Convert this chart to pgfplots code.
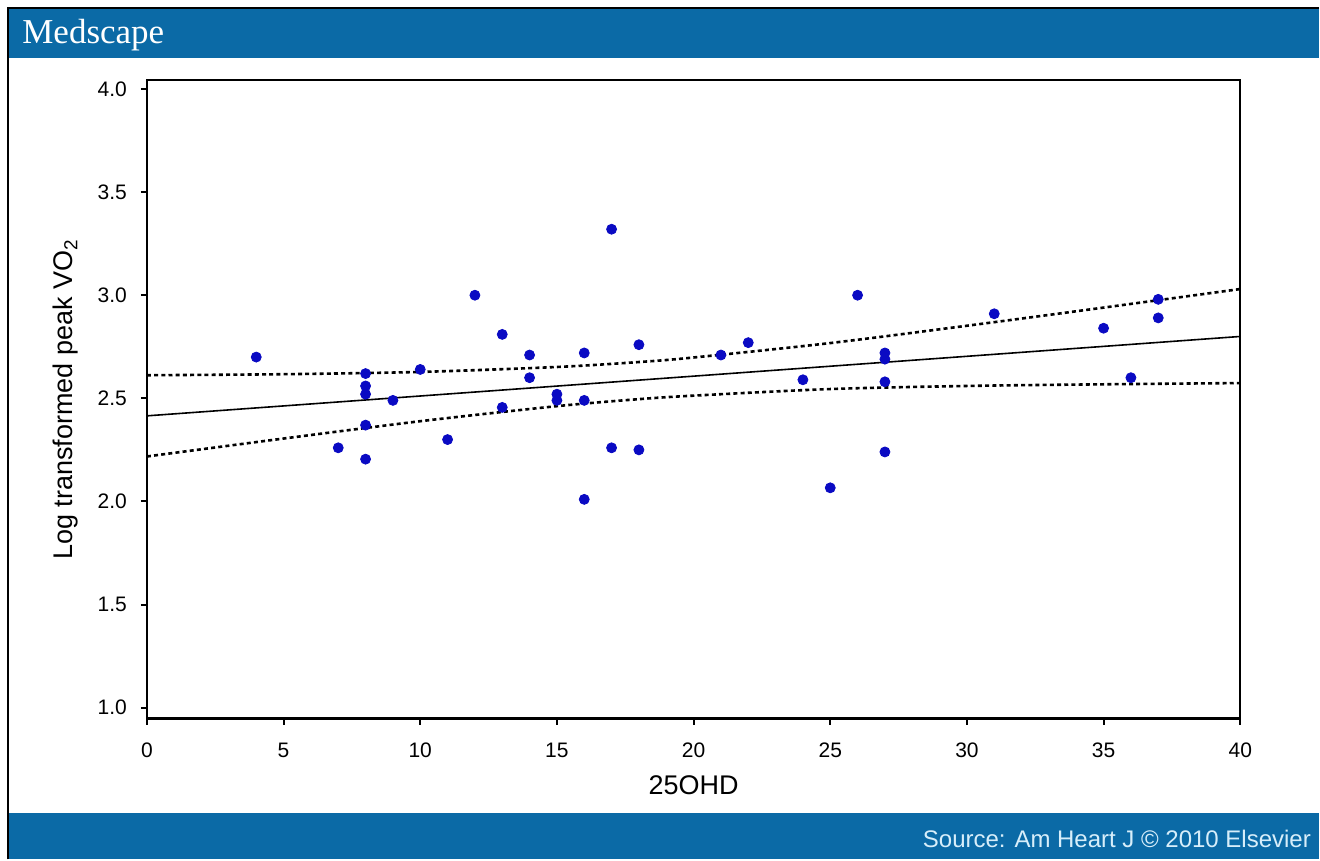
\documentclass[border=0pt]{standalone}
\usepackage{fontspec}
\setmainfont{Liberation Sans}
\newfontfamily\serifmed{Liberation Serif}
\usepackage{pgfplots}
\pgfplotsset{compat=1.18}
\definecolor{medblue}{RGB}{11,106,166}
\definecolor{dotblue}{RGB}{10,10,195}
\definecolor{foottext}{RGB}{215,238,250}

\begin{document}
\begin{tikzpicture}
\fill[white] (0pt,0pt) rectangle (660pt,430pt);
\fill[medblue] (4pt,401pt) rectangle (660pt,426pt);
\fill[medblue] (4pt,0pt) rectangle (660pt,23.5pt);
\draw[black, line width=0.8pt] (4pt,0pt) -- (4pt,426pt) -- (660pt,426pt);
\node[anchor=base west, text=white, font=\serifmed\fontsize{17.5}{20}\selectfont, inner sep=0] at (11pt,408pt) {Medscape};
\node[anchor=base east, text=foottext, font=\fontsize{12}{14}\selectfont, inner sep=0] at (656pt,6pt) {Source: Am Heart J \textcopyright{} 2010 Elsevier};
\begin{axis}[
  at={(73.5pt,70.5pt)}, anchor=south west,
  scale only axis, width=547pt, height=319.5pt,
  xmin=0, xmax=40, ymin=0.947, ymax=4.044,
  xtick={0,5,...,40}, ytick={1.0,1.5,2.0,2.5,3.0,3.5,4.0},
  yticklabel style={xshift=-3.5pt, /pgf/number format/.cd, fixed, fixed zerofill, precision=1},
  /pgf/number format/assume math mode=true,
  tick align=outside, xtick pos=bottom, ytick pos=left,
  major tick length=3pt, tick style={black, line width=1pt},
  axis line style={line width=1.2pt},
  tick label style={font=\fontsize{10.5}{12}\selectfont},
  xticklabel style={yshift=-5.6pt},
  xlabel={25OHD}, ylabel={Log transformed peak VO\textsubscript{2}},
  label style={font=\fontsize{13.5}{15}\selectfont},
  xlabel style={at={(axis description cs:0.5,0)}, anchor=base, yshift=-38pt},
  ylabel style={at={(axis description cs:0,0.5)}, anchor=base, yshift=37pt},
]
\addplot[black, line width=0.8pt] coordinates {(0,2.415) (40,2.80)};
\addplot[black, line width=1.3pt, dash pattern=on 2pt off 1.6pt, smooth] coordinates {
(0,2.612) (5,2.617) (10,2.628) (15,2.652) (18,2.676) (20,2.698) (25,2.768) (30,2.852) (35,2.940) (40,3.030)};
\addplot[black, line width=1.3pt, dash pattern=on 2pt off 1.6pt, smooth] coordinates {
(0,2.218) (5,2.305) (10,2.389) (15,2.462) (18,2.496) (20,2.513) (25,2.545) (30,2.560) (35,2.568) (40,2.574)};
\addplot[only marks, mark=*, mark size=2.5pt, draw=dotblue, fill=dotblue] coordinates {
(4,2.70) (8,2.62) (8,2.56) (8,2.52) (8,2.37) (8,2.205) (7,2.26) (9,2.49) (10,2.64) (11,2.30)
(12,3.00) (13,2.81) (13,2.456) (14,2.71) (14,2.60) (15,2.52) (15,2.49) (16,2.72) (16,2.49) (16,2.01)
(17,3.32) (17,2.26) (18,2.76) (18,2.25) (21,2.71) (22,2.77) (24,2.59) (25,2.066) (26,3.00)
(27,2.72) (27,2.69) (27,2.58) (27,2.24) (31,2.91) (35,2.84) (36,2.60) (37,2.98) (37,2.89)};
\end{axis}
\end{tikzpicture}
\end{document}
